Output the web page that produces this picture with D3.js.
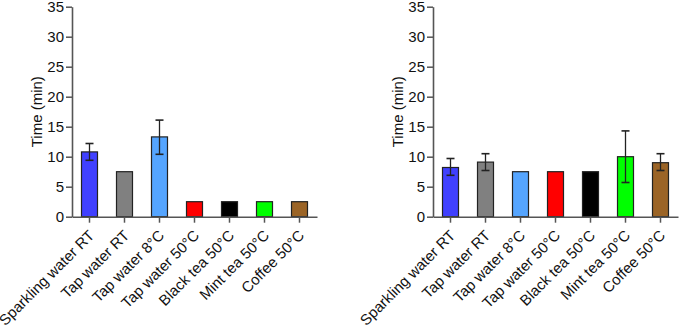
<!DOCTYPE html>
<html><head><meta charset="utf-8">
<script src="https://cdn.jsdelivr.net/npm/d3@7"></script>
<style>body{margin:0;background:#fff;} text{font-family:"Liberation Sans",Arial,sans-serif;}</style>
</head><body>
<svg id="c" width="679" height="325"></svg>
<script>
const categories = ["Sparkling water RT","Tap water RT","Tap water 8°C","Tap water 50°C","Black tea 50°C","Mint tea 50°C","Coffee 50°C"];
const colors = ["#4040ff","#808080","#55a5ff","#ff0000","#000000","#00ff00","#9b6426"];
const leftMeans = [10.8, 7.5, 13.3, 2.5, 2.5, 2.5, 2.5];
const leftErrLow = [9.4, null, 10.4, null, null, null, null];
const leftErrHigh = [12.2, null, 16.1, null, null, null, null];
const rightMeans = [8.2, 9.1, 7.5, 7.5, 7.5, 10.0, 9.0];
const rightErrLow = [6.9, 7.7, null, null, null, 5.7, 7.7];
const rightErrHigh = [9.7, 10.5, null, null, null, 14.3, 10.5];
const yTicks = [0,5,10,15,20,25,30,35];
const yLabel = "Time (min)";

const svg = d3.select("#c");
const y = d3.scaleLinear().domain([0,35]).range([216.7, 6.7]);

function panel(x0, means, lo, hi){
  const g = svg.append("g");
  const x = d3.scaleBand().domain(categories).range([x0, x0+245]).padding(0);
  const bw = 16;
  g.selectAll("rect.bar").data(categories).enter().append("rect")
    .attr("x", d => x(d) + x.bandwidth()/2 - bw/2)
    .attr("y", (d,i) => y(means[i]))
    .attr("width", bw)
    .attr("height", (d,i) => y(0) - y(means[i]))
    .attr("fill", (d,i) => colors[i])
    .attr("stroke", "#222").attr("stroke-width", 1.2);
  categories.forEach((d,i) => {
    if (lo[i] == null) return;
    const cx = x(d) + x.bandwidth()/2;
    g.append("line").attr("x1",cx).attr("x2",cx).attr("y1",y(lo[i])).attr("y2",y(hi[i])).attr("stroke","#222").attr("stroke-width",1.3);
    [lo[i],hi[i]].forEach(v => g.append("line").attr("x1",cx-4).attr("x2",cx+4).attr("y1",y(v)).attr("y2",y(v)).attr("stroke","#222").attr("stroke-width",1.6));
  });
  const ya = g.append("g").attr("transform",`translate(${x0},0)`)
    .call(d3.axisLeft(y).tickValues(yTicks).tickSize(6).tickPadding(2).tickSizeOuter(0));
  ya.select(".domain").attr("stroke","#555").attr("stroke-width",1.6);
  ya.selectAll(".tick line").attr("stroke","#555").attr("stroke-width",1.5);
  ya.selectAll(".tick text").attr("font-size",15).attr("fill","#111").attr("font-family","Liberation Sans, Arial, sans-serif");
  const xa = g.append("g").attr("transform",`translate(0,${y(0)})`)
    .call(d3.axisBottom(x).tickSize(6).tickSizeOuter(0));
  xa.select(".domain").attr("stroke","#555").attr("stroke-width",1.6);
  xa.selectAll(".tick line").attr("stroke","#555").attr("stroke-width",1.5);
  xa.selectAll(".tick text")
    .attr("font-size",15).attr("fill","#111").attr("font-family","Liberation Sans, Arial, sans-serif")
    .attr("text-anchor","end")
    .attr("x",0).attr("y",0).attr("dy","0.35em")
    .attr("transform","translate(2,16) rotate(-45)");
  g.append("text").attr("transform",`translate(${x0-35},${y(17.5)}) rotate(-90)`)
    .attr("text-anchor","middle").attr("dy","0.35em").attr("font-size",15).attr("fill","#111").text(yLabel);
}
panel(72, leftMeans, leftErrLow, leftErrHigh);
panel(433, rightMeans, rightErrLow, rightErrHigh);
</script>
</body></html>
